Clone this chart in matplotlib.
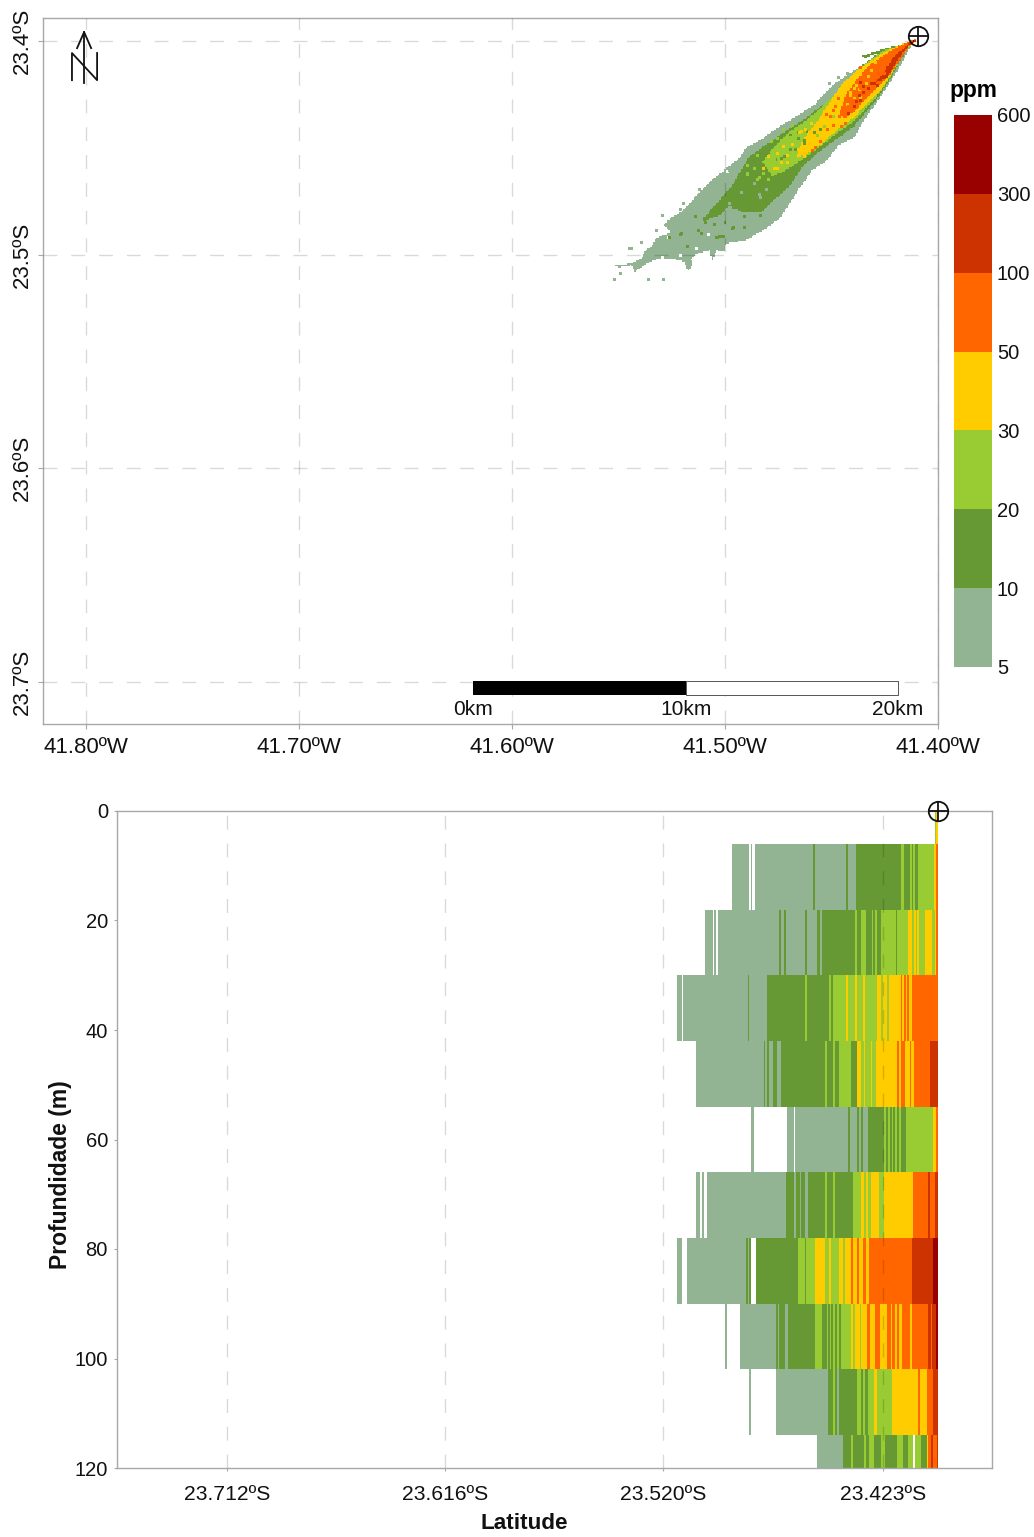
import matplotlib
matplotlib.use("Agg")
import matplotlib.pyplot as plt
from matplotlib.colors import ListedColormap, BoundaryNorm
from matplotlib.cm import ScalarMappable
from matplotlib.path import Path
import numpy as np

plt.rcParams["font.family"] = ["Liberation Sans", "DejaVu Sans"]

# ppm classes, shared by the map and the section
ppm_levels = [5, 10, 20, 30, 50, 100, 300, 600]
ppm_colors = ["#93B492", "#669933", "#99CC33", "#FFCC00", "#FF6600", "#CC3300", "#990000"]

# Map ticks (degrees west / south)
lon_ticks = [41.80, 41.70, 41.60, 41.50, 41.40]
lat_ticks = [23.4, 23.5, 23.6, 23.7]
source_lon = 41.4094
source_lat = 23.3977

# Plume outlines per class
outline_5 = [(41.4098, 23.3988), (41.4191, 23.4022), (41.4245, 23.4037), (41.4323, 23.4089), (41.4402, 23.4144),
             (41.4464, 23.4183), (41.4527, 23.4237), (41.4573, 23.4292), (41.4652, 23.4346), (41.4745, 23.4401),
             (41.4823, 23.4456), (41.4902, 23.4502), (41.4933, 23.4549), (41.4995, 23.4596), (41.4980, 23.4619),
             (41.5011, 23.4612), (41.5073, 23.4658), (41.5120, 23.4705), (41.5152, 23.4744), (41.5206, 23.4799),
             (41.5269, 23.4838), (41.5284, 23.4861), (41.5253, 23.4892), (41.5323, 23.4924), (41.5339, 23.4955),
             (41.5370, 23.4978), (41.5394, 23.5017), (41.5448, 23.5041), (41.5519, 23.5048), (41.5503, 23.5059),
             (41.5441, 23.5048), (41.5425, 23.5080), (41.5355, 23.5033), (41.5308, 23.5017), (41.5245, 23.5017),
             (41.5191, 23.5033), (41.5175, 23.5080), (41.5152, 23.5048), (41.5159, 23.5017), (41.5128, 23.4994),
             (41.5073, 23.4978), (41.5058, 23.5033), (41.5042, 23.4978), (41.5003, 23.4986), (41.4995, 23.4947),
             (41.4902, 23.4931), (41.4808, 23.4877), (41.4745, 23.4830), (41.4698, 23.4760), (41.4652, 23.4690),
             (41.4589, 23.4604), (41.4527, 23.4565), (41.4464, 23.4487), (41.4402, 23.4456), (41.4386, 23.4440),
             (41.4363, 23.4393), (41.4308, 23.4315), (41.4245, 23.4222), (41.4183, 23.4128), (41.4128, 23.4027)]
outline_streak = [(41.4355, 23.4069), (41.4261, 23.4037), (41.4191, 23.4019), (41.4261, 23.4047), (41.4347, 23.4081)]
outline_10 = [(41.4098, 23.3988), (41.4180, 23.4018), (41.4260, 23.4042), (41.4340, 23.4100), (41.4402, 23.4155),
              (41.4464, 23.4245), (41.4542, 23.4300), (41.4620, 23.4362), (41.4730, 23.4432), (41.4808, 23.4487),
              (41.4886, 23.4541), (41.4964, 23.4674), (41.5019, 23.4736), (41.5089, 23.4814), (41.5105, 23.4845),
              (41.5027, 23.4814), (41.4980, 23.4768), (41.4917, 23.4799), (41.4823, 23.4799), (41.4761, 23.4736),
              (41.4698, 23.4682), (41.4636, 23.4588), (41.4566, 23.4526), (41.4464, 23.4450), (41.4400, 23.4405),
              (41.4339, 23.4335), (41.4277, 23.4255), (41.4214, 23.4160), (41.4152, 23.4050), (41.4120, 23.4015)]
outline_20 = [(41.4098, 23.3988), (41.4175, 23.4018), (41.4260, 23.4045), (41.4355, 23.4115), (41.4464, 23.4225),
              (41.4527, 23.4292), (41.4605, 23.4362), (41.4698, 23.4424), (41.4777, 23.4502), (41.4823, 23.4565),
              (41.4777, 23.4635), (41.4714, 23.4604), (41.4652, 23.4565), (41.4573, 23.4510), (41.4464, 23.4425),
              (41.4400, 23.4380), (41.4339, 23.4315), (41.4277, 23.4245), (41.4214, 23.4150), (41.4152, 23.4045),
              (41.4118, 23.4012)]
outline_30 = [(41.4098, 23.3988), (41.4144, 23.4005), (41.4245, 23.4047), (41.4370, 23.4128), (41.4448, 23.4198),
              (41.4495, 23.4265), (41.4566, 23.4378), (41.4636, 23.4463), (41.4667, 23.4549), (41.4589, 23.4518),
              (41.4511, 23.4450), (41.4464, 23.4410), (41.4402, 23.4365), (41.4339, 23.4300), (41.4277, 23.4237),
              (41.4214, 23.4144), (41.4152, 23.4042), (41.4116, 23.4010)]
outline_50 = [(41.4098, 23.3988), (41.4136, 23.4003), (41.4230, 23.4050), (41.4323, 23.4112), (41.4386, 23.4183),
              (41.4433, 23.4253), (41.4464, 23.4346), (41.4433, 23.4362), (41.4386, 23.4323), (41.4339, 23.4268),
              (41.4292, 23.4222), (41.4230, 23.4159), (41.4183, 23.4097), (41.4136, 23.4027), (41.4112, 23.4006)]
outline_100 = [(41.4098, 23.3988), (41.4128, 23.4003), (41.4214, 23.4081), (41.4261, 23.4159), (41.4292, 23.4190),
               (41.4245, 23.4175), (41.4183, 23.4081), (41.4136, 23.4019), (41.4110, 23.4003)]
outline_300 = [(41.4098, 23.3988), (41.4128, 23.4006), (41.4138, 23.4018), (41.4118, 23.4008)]

# Small patches that differ from the surrounding class
specks_empty = [(41.5128, 23.4963), (41.5073, 23.4900), (41.5206, 23.4994), (41.5284, 23.5002), (41.5261, 23.4916)]
specks_5 = [(41.4855, 23.4658), (41.4917, 23.4705), (41.4800, 23.4690), (41.4886, 23.4612), (41.4972, 23.4752),
            (41.5433, 23.4963), (41.5386, 23.4931), (41.5511, 23.5111), (41.5347, 23.5111), (41.5277, 23.5111),
            (41.5480, 23.5080), (41.5316, 23.4877), (41.5284, 23.4807), (41.5206, 23.4783), (41.5191, 23.4752),
            (41.5113, 23.4690), (41.4995, 23.4596), (41.4503, 23.4190), (41.4464, 23.4167), (41.4417, 23.4144),
            (41.5441, 23.4963), (41.4831, 23.4713), (41.4823, 23.4725)]
specks_10 = [(41.5011, 23.4908), (41.5027, 23.4911), (41.5019, 23.4908), (41.5003, 23.4903), (41.5034, 23.4916),
             (41.4948, 23.4861), (41.4956, 23.4869), (41.5089, 23.4822), (41.5089, 23.4830), (41.5081, 23.4841),
             (41.5198, 23.4892), (41.5253, 23.4916), (41.4823, 23.4807), (41.4902, 23.4814), (41.4902, 23.4861),
             (41.5042, 23.4853), (41.5120, 23.4877), (41.5167, 23.4955), (41.4995, 23.4846), (41.5050, 23.4783),
             (41.5003, 23.4744), (41.4948, 23.4775), (41.5105, 23.4892), (41.5206, 23.4900), (41.5136, 23.4814),
             (41.4620, 23.4456), (41.4573, 23.4424), (41.4542, 23.4409), (41.4714, 23.4534), (41.4667, 23.4502),
             (41.4652, 23.4424), (41.4683, 23.4502), (41.4730, 23.4541), (41.4652, 23.4448), (41.4620, 23.4471),
             (41.4605, 23.4417), (41.4683, 23.4432), (41.4753, 23.4549)]
specks_20 = [(41.4808, 23.4612), (41.4761, 23.4549), (41.4839, 23.4643), (41.4886, 23.4580), (41.4722, 23.4580),
             (41.4683, 23.4424), (41.4730, 23.4456), (41.4527, 23.4393), (41.4480, 23.4346), (41.4558, 23.4440),
             (41.4855, 23.4588), (41.4886, 23.4619), (41.4839, 23.4526), (41.4831, 23.4635), (41.4792, 23.4643),
             (41.4777, 23.4463), (41.4745, 23.4448), (41.4722, 23.4409), (41.4675, 23.4385)]
specks_30 = [(41.4652, 23.4502), (41.4698, 23.4565), (41.4745, 23.4588), (41.4620, 23.4534), (41.4589, 23.4378),
             (41.4636, 23.4417), (41.4386, 23.4214), (41.4402, 23.4237), (41.4355, 23.4253), (41.4745, 23.4518),
             (41.4761, 23.4588), (41.4722, 23.4487), (41.4792, 23.4534), (41.4808, 23.4588), (41.4698, 23.4526),
             (41.4675, 23.4479), (41.4730, 23.4565), (41.4644, 23.4424), (41.4613, 23.4409), (41.4355, 23.4151),
             (41.4378, 23.4198), (41.4308, 23.4128), (41.4402, 23.4245), (41.4363, 23.4222), (41.4417, 23.4292),
             (41.4331, 23.4190), (41.4284, 23.4097), (41.4386, 23.4261), (41.4323, 23.4159)]
specks_50 = [(41.4433, 23.4331), (41.4386, 23.4268), (41.4456, 23.4346), (41.4355, 23.4214), (41.4409, 23.4300),
             (41.4245, 23.4144), (41.4480, 23.4315), (41.4495, 23.4346), (41.4464, 23.4261), (41.4355, 23.4112),
             (41.4448, 23.4393), (41.4472, 23.4300), (41.4425, 23.4378), (41.4566, 23.4495), (41.4542, 23.4463),
             (41.4511, 23.4409), (41.4480, 23.4385), (41.4581, 23.4510), (41.4519, 23.4339)]
specks_100 = [(41.4230, 23.4112), (41.4339, 23.4206), (41.4292, 23.4190), (41.4355, 23.4183), (41.4308, 23.4190),
              (41.4339, 23.4237), (41.4355, 23.4268), (41.4378, 23.4276), (41.4323, 23.4214), (41.4386, 23.4300),
              (41.4277, 23.4198), (41.4409, 23.4331), (41.4363, 23.4245)]

# Scale bar and north arrow
scale_km = [0, 10, 20]
scale_lon = [41.6185, 41.5181, 41.4188]
scale_lat = [23.6995, 23.7061]
arrow_lon = [41.8042, 41.8009, 41.7976]
arrow_lat = [23.4033, 23.3958, 23.4033]
stem_lat = [23.3958, 23.4197]
north_lon = [41.8066, 41.8066, 41.7948, 41.7948]
north_lat = [23.4183, 23.4056, 23.4183, 23.4056]

# Section ticks
section_lat_ticks = [23.712, 23.616, 23.520, 23.423]
depth_ticks = [0, 20, 40, 60, 80, 100, 120]
section_source_lat = 23.3988

# Section bands: depth limits, then latitude edges and class of each run (-1 is empty)
band_depths = [(0, 6), (6, 18), (18, 30), (30, 42), (42, 54), (54, 66), (66, 78), (78, 90), (90, 102), (102, 114), (114, 120)]
lat_00 = [23.4003, 23.3995, 23.3988]
cls_00 = [2, 3]
lat_06 = [23.4897, 23.4819, 23.4813, 23.4807, 23.4795, 23.4537, 23.4530, 23.4393, 23.4384, 23.4351, 23.4152, 23.4139,
          23.4111, 23.4104, 23.4097, 23.4089, 23.4075, 23.4004, 23.3998, 23.3988]
cls_06 = [0, -1, 0, -1, 0, 1, 0, 1, 0, 1, 2, 1, 2, 1, 2, 1, 2, 3, 4]
lat_18 = [23.5014, 23.4979, 23.4973, 23.4964, 23.4957, 23.4690, 23.4681, 23.4668, 23.4659, 23.4574, 23.4566, 23.4522,
          23.4508, 23.4500, 23.4354, 23.4346, 23.4329, 23.4305, 23.4280, 23.4273, 23.4265, 23.4258, 23.4240, 23.4173,
          23.4167, 23.4119, 23.4104, 23.4094, 23.4085, 23.4079, 23.4073, 23.4045, 23.4016, 23.4001, 23.3998, 23.3988]
cls_18 = [0, -1, 0, -1, 0, 1, 0, 1, 0, 1, 0, 1, 0, 1, 2, 1, 2, 1, 2, 1, 2, 1, 2, 1, 2, 3, 2, 3, 2, 3, 2, 3, 2, 3, 4]
lat_30 = [23.5136, 23.5115, 23.5110, 23.4825, 23.4819, 23.4740, 23.4574, 23.4566, 23.4467, 23.4461, 23.4452, 23.4393,
          23.4386, 23.4354, 23.4346, 23.4317, 23.4311, 23.4255, 23.4240, 23.4232, 23.4214, 23.4205, 23.4152, 23.4145,
          23.4138, 23.4130, 23.4123, 23.4117, 23.4103, 23.3988]
cls_30 = [0, -1, 0, 1, 0, 1, 2, 1, 2, 1, 2, 3, 2, 3, 2, 3, 2, 3, 2, 3, 2, 3, 4, 3, 4, 3, 4, 3, 4]
lat_42 = [23.5055, 23.4754, 23.4748, 23.4743, 23.4732, 23.4716, 23.4696, 23.4681, 23.4487, 23.4478, 23.4452, 23.4440,
          23.4423, 23.4373, 23.4343, 23.4329, 23.4314, 23.4308, 23.4285, 23.4279, 23.4261, 23.4167, 23.4158, 23.4149,
          23.4132, 23.4111, 23.4105, 23.4094, 23.4023, 23.3988]
cls_42 = [0, 1, 0, 1, 0, 1, 0, 1, 2, 1, 2, 1, 2, 1, 3, 2, 3, 2, 3, 2, 3, 4, 3, 4, 3, 4, 3, 4, 5]
lat_54 = [23.4812, 23.4797, 23.4653, 23.4624, 23.4616, 23.4386, 23.4377, 23.4343, 23.4334, 23.4329, 23.4317, 23.4296,
          23.4226, 23.4217, 23.4208, 23.4199, 23.4191, 23.4185, 23.4176, 23.4170, 23.4161, 23.4152, 23.4130, 23.4010,
          23.3997, 23.3988]
cls_54 = [0, -1, 0, -1, 0, 1, 0, 1, 0, 1, 0, 1, 2, 1, 2, 1, 2, 1, 2, 1, 2, 1, 2, 3, 4]
lat_66 = [23.5055, 23.5036, 23.5029, 23.5020, 23.5005, 23.4659, 23.4621, 23.4615, 23.4596, 23.4590, 23.4572, 23.4559,
          23.4486, 23.4475, 23.4452, 23.4440, 23.4364, 23.4326, 23.4314, 23.4305, 23.4296, 23.4282, 23.4246, 23.4226,
          23.4097, 23.4031, 23.4023, 23.4003, 23.3988]
cls_66 = [0, -1, 0, -1, 0, 1, 0, 1, 0, 1, 0, 1, 2, 1, 2, 1, 2, 3, 2, 3, 2, 3, 2, 3, 4, 5, 4, 5]
lat_78 = [23.5136, 23.5114, 23.5095, 23.4834, 23.4825, 23.4819, 23.4812, 23.4790, 23.4603, 23.4574, 23.4569, 23.4531,
          23.4484, 23.4467, 23.4458, 23.4424, 23.4405, 23.4398, 23.4373, 23.4364, 23.4343, 23.4334, 23.4320, 23.4305,
          23.4290, 23.4104, 23.4009, 23.3988]
cls_78 = [0, -1, 0, 1, 0, 1, -1, 1, 2, 1, 2, 3, 2, 3, 2, 3, 2, 3, 4, 3, 4, 3, 4, 3, 4, 5, 6]
lat_90 = [23.4928, 23.4919, 23.4861, 23.4701, 23.4693, 23.4687, 23.4660, 23.4650, 23.4531, 23.4499, 23.4478, 23.4471,
          23.4464, 23.4458, 23.4449, 23.4443, 23.4431, 23.4425, 23.4414, 23.4370, 23.4361, 23.4352, 23.4332, 23.4326,
          23.4299, 23.4287, 23.4265, 23.4243, 23.4214, 23.4196, 23.4191, 23.4176, 23.4170, 23.4161, 23.4147, 23.4111,
          23.4103, 23.4031, 23.4020, 23.4014, 23.3997, 23.3988]
cls_90 = [0, -1, 0, 1, 0, 1, 0, 1, 2, 1, 2, 1, 2, 1, 2, 1, 2, 1, 2, 3, 2, 3, 2, 3, 4, 3, 4, 3, 4, 3, 4, 3, 4, 3, 4, 3, 4,
          5, 4, 5, 6]
lat_102 = [23.4820, 23.4812, 23.4701, 23.4472, 23.4449, 23.4443, 23.4434, 23.4423, 23.4343, 23.4326, 23.4317, 23.4308,
           23.4296, 23.4270, 23.4255, 23.4191, 23.4075, 23.4067, 23.4038, 23.4009, 23.3988]
cls_102 = [0, -1, 0, 1, 2, 1, 0, 1, 2, 1, 2, 1, 2, 3, 2, 3, 4, 3, 4, 5]
lat_114 = [23.4522, 23.4408, 23.4370, 23.4361, 23.4314, 23.4305, 23.4290, 23.4270, 23.4238, 23.4223, 23.4167, 23.4141,
           23.4119, 23.4097, 23.4089, 23.4061, 23.4038, 23.4031, 23.4020, 23.4011, 23.3994, 23.3988]
cls_114 = [0, 1, 2, 1, 2, 1, 2, 1, 2, 1, 2, 1, 2, -1, 2, 1, 3, 4, 5, 4, 5]

band_lats = [lat_00, lat_06, lat_18, lat_30, lat_42, lat_54, lat_66, lat_78, lat_90, lat_102, lat_114]
band_classes = [cls_00, cls_06, cls_18, cls_30, cls_42, cls_54, cls_66, cls_78, cls_90, cls_102, cls_114]

GRID_KW = dict(color="black", alpha=0.15, linewidth=1, linestyle=(0, (10, 10)))
EDGE_COLOR = "#a8a8a8"
TEXT_COLOR = "#111111"


def px_axes(fig, left, right, top, bottom):
    """Axes placed from pixel edges of the 1034x1537 figure."""
    return fig.add_axes([left / 1034, 1 - bottom / 1537, (right - left) / 1034, (bottom - top) / 1537])


def style_axes(ax):
    for spine in ax.spines.values():
        spine.set_color(EDGE_COLOR)
        spine.set_linewidth(1)
    ax.tick_params(color=EDGE_COLOR, width=0.8, labelcolor=TEXT_COLOR)
    ax.set_axisbelow(False)


def draw_source(ax, x, y):
    ax.plot(x, y, "o", ms=14, mfc="none", mec=TEXT_COLOR, mew=1.3, clip_on=False, zorder=6)
    ax.plot(x, y, "+", ms=14, mec=TEXT_COLOR, mew=1.3, clip_on=False, zorder=6)


def plume_grid():
    """Rasterise the hand-read outlines on a fine lon/lat grid, like the model output."""
    lon_edges = np.arange(41.36, 41.60, 0.0007)
    lat_edges = np.arange(23.38, 23.53, 0.0007)
    lon_mid = (lon_edges[:-1] + lon_edges[1:]) / 2
    lat_mid = (lat_edges[:-1] + lat_edges[1:]) / 2
    lon_grid, lat_grid = np.meshgrid(lon_mid, lat_mid)
    pts = np.column_stack([lon_grid.ravel(), lat_grid.ravel()])

    cells = np.full(lon_grid.shape, -1.0)
    outlines = [(outline_5, 0), (outline_10, 1), (outline_streak, 1), (outline_20, 2), (outline_30, 3),
                (outline_50, 4), (outline_100, 5), (outline_300, 6)]
    for outline, cls in outlines:
        inside = Path(outline).contains_points(pts).reshape(lon_grid.shape)
        cells[inside] = cls

    specks = [(specks_empty, -1), (specks_5, 0), (specks_10, 1), (specks_20, 2), (specks_30, 3),
              (specks_50, 4), (specks_100, 5)]
    for group, cls in specks:
        for lon, lat in group:
            i = np.searchsorted(lat_mid, lat)
            j = np.searchsorted(lon_mid, lon)
            cells[i:i + 2, j:j + 2] = cls
    return lon_edges, lat_edges, np.ma.masked_less(cells, 0)


def plot_map(fig):
    ax = px_axes(fig, 43, 938, 18, 724)
    lon_edges, lat_edges, cells = plume_grid()
    ax.pcolormesh(lon_edges, lat_edges, cells, cmap=ListedColormap(ppm_colors), vmin=-0.5, vmax=6.5, zorder=2)

    ax.set_xlim(41.8202, 41.4005)
    ax.set_ylim(23.7197, 23.3892)
    ax.set_xticks(lon_ticks)
    ax.set_xticklabels([f"{v:.2f}ºW" for v in lon_ticks])
    ax.set_yticks(lat_ticks)
    ax.set_yticklabels([f"{v:.1f}ºS" for v in lat_ticks], rotation=90, va="center")
    style_axes(ax)
    ax.tick_params(length=3.5, labelsize=16)
    ax.tick_params(axis="x", pad=6)
    ax.grid(True, **GRID_KW)

    # Scale bar
    ax.fill_between(scale_lon[:2], scale_lat[0], scale_lat[1], color="black", lw=0, zorder=4)
    ax.fill_between(scale_lon[1:], scale_lat[0], scale_lat[1], facecolor="white", edgecolor="#555555", lw=0.7, zorder=4)
    for km, lon in zip(scale_km, scale_lon):
        ax.text(lon, scale_lat[1] + 0.0024, f"{km}km", ha="center", va="top", fontsize=15, color=TEXT_COLOR)

    # North arrow
    ax.plot(arrow_lon, arrow_lat, color=TEXT_COLOR, lw=1.3, zorder=5)
    ax.plot([arrow_lon[1]] * 2, stem_lat, color=TEXT_COLOR, lw=1.3, zorder=5)
    ax.plot(north_lon, north_lat, color=TEXT_COLOR, lw=1.3, zorder=5)

    draw_source(ax, source_lon, source_lat)

    # Class legend
    cax = px_axes(fig, 954, 992, 115, 667)
    norm = BoundaryNorm(ppm_levels, len(ppm_colors))
    bar = fig.colorbar(ScalarMappable(norm=norm, cmap=ListedColormap(ppm_colors)), cax=cax,
                       ticks=ppm_levels, spacing="uniform")
    bar.outline.set_visible(False)
    bar.ax.tick_params(length=0, pad=3.5, labelsize=14.5, labelcolor=TEXT_COLOR)
    fig.text(973 / 1034, 1 - 91 / 1537, "ppm", ha="center", va="center", fontsize=16.3, fontweight="bold")


def plot_section(fig):
    ax = px_axes(fig, 117, 992, 811, 1468)
    colors = np.array(ppm_colors)
    for (top, bottom), edges, classes in zip(band_depths, band_lats, band_classes):
        for k, cls in enumerate(classes):
            if cls < 0:
                continue
            ax.barh((top + bottom) / 2, edges[k + 1] - edges[k], left=edges[k], height=bottom - top,
                    color=colors[cls], linewidth=0, zorder=2)

    ax.set_xlim(23.7605, 23.3750)
    ax.set_ylim(120, 0)
    ax.set_xticks(section_lat_ticks)
    ax.set_xticklabels([f"{v:.3f}ºS" for v in section_lat_ticks])
    ax.set_yticks(depth_ticks)
    style_axes(ax)
    ax.tick_params(length=2.5)
    ax.tick_params(axis="x", pad=9.5, labelsize=15.2)
    ax.tick_params(axis="y", pad=4, labelsize=14.5)
    ax.xaxis.grid(True, **GRID_KW)
    ax.set_xlabel("Latitude", fontsize=16.2, fontweight="bold", va="center", color=TEXT_COLOR)
    ax.set_ylabel("Profundidade (m)", fontsize=16.5, fontweight="bold", va="center", color=TEXT_COLOR)
    ax.xaxis.set_label_coords(0.466, -0.085)
    ax.yaxis.set_label_coords(-0.064, 0.446)

    draw_source(ax, section_source_lat, 0)


fig = plt.figure(figsize=(10.34, 15.37), dpi=100)
plot_map(fig)
plot_section(fig)
fig.savefig("out.png", dpi=100)
plt.close(fig)
